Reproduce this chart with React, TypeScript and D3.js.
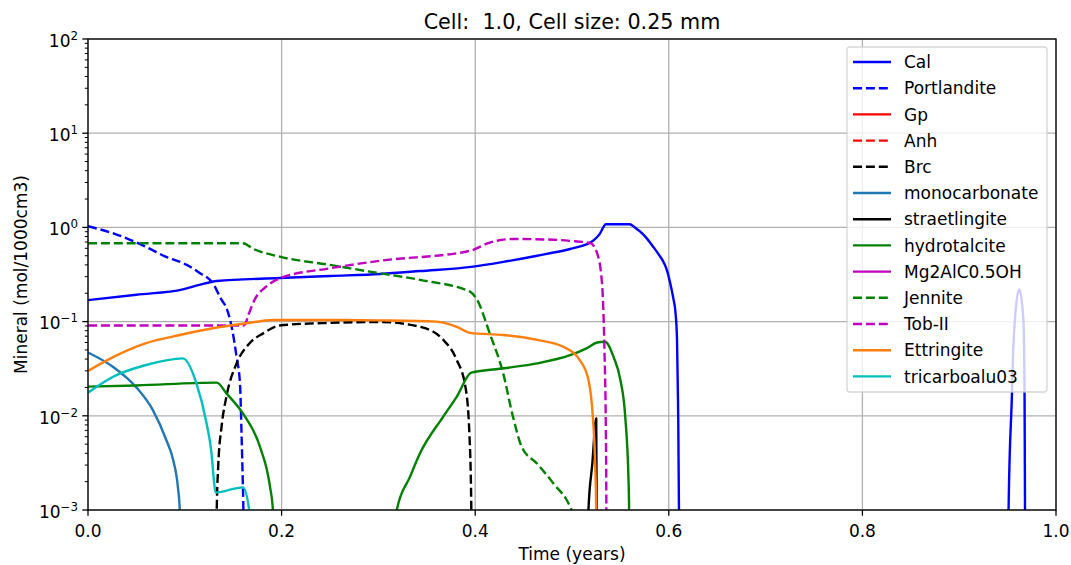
import React from 'react';
import * as d3 from 'd3';

const W = 1071;
const H = 565;
const PLOT = { left: 88, right: 1056, top: 39, bottom: 510 };
const FONT = 'DejaVu Sans, sans-serif';

// Tiny value standing in for zero amounts on the log axis (falls below the plot and is clipped)
const Z = 1e-6;

const xTicks = [0, 0.2, 0.4, 0.6, 0.8, 1.0];
const yExponents = [-3, -2, -1, 0, 1, 2];

// Mineral amounts (mol/1000cm3) against time (years)
const calT = [0, 0.05, 0.098, 0.115, 0.133, 0.198, 0.25, 0.302, 0.343, 0.398, 0.429, 0.464, 0.498, 0.512, 0.519, 0.526, 0.529, 0.535, 0.5595, 0.565, 0.5705, 0.577, 0.584, 0.5895, 0.595, 0.5985, 0.6015, 0.6045, 0.607, 0.6085, 0.6095, 0.6105, 0.611,
  0.9495, 0.951, 0.9545, 0.9558, 0.9578, 0.962, 0.9661, 0.9671, 0.9675, 0.968, 0.9695];
const calV = [0.169, 0.193, 0.22, 0.245, 0.27, 0.29, 0.305, 0.32, 0.344, 0.383, 0.43, 0.50, 0.59, 0.645, 0.69, 0.79, 0.865, 1.08, 1.08, 1.0, 0.90, 0.77, 0.62, 0.518, 0.42, 0.34, 0.255, 0.18, 0.122, 0.064, 0.0147, 0.001, Z,
  Z, 0.001, 0.017, 0.05, 0.113, 0.22, 0.113, 0.05, 0.017, 0.001, Z];

const portlanditeT = [0, 0.031, 0.06, 0.08, 0.102, 0.115, 0.129, 0.138, 0.143, 0.1476, 0.1535, 0.157, 0.1586, 0.160, 0.1605, 0.161];
const portlanditeV = [1.03, 0.83, 0.62, 0.49, 0.40, 0.33, 0.255, 0.17, 0.14, 0.096, 0.042, 0.022, 0.0065, 0.00177, 0.001, Z];

const gpT: number[] = [];
const gpV: number[] = [];
const anhT: number[] = [];
const anhV: number[] = [];

const brcT = [0.132, 0.133, 0.1345, 0.138, 0.143, 0.1535, 0.167, 0.181, 0.198, 0.25, 0.302, 0.343, 0.367, 0.381, 0.390, 0.394, 0.396, 0.397];
const brcV = [Z, 0.001, 0.0029, 0.0077, 0.016, 0.036, 0.059, 0.075, 0.091, 0.097, 0.099, 0.088, 0.064, 0.039, 0.020, 0.0065, 0.001, Z];

const monoT = [0, 0.026, 0.050, 0.067, 0.081, 0.088, 0.093, 0.0948, 0.0955];
const monoV = [0.047, 0.033, 0.020, 0.0115, 0.0055, 0.0034, 0.0017, 0.001, Z];

const straetT = [0.5165, 0.517, 0.521, 0.525, 0.5255, 0.526];
const straetV = [Z, 0.001, 0.0031, 0.0094, 0.001, Z];

const hydroT = [0, 0.05, 0.133, 0.143, 0.160, 0.1776, 0.188, 0.191, 0.1915, 0.318, 0.319, 0.3327, 0.343, 0.367, 0.381, 0.396, 0.43, 0.464, 0.498, 0.515, 0.526, 0.534, 0.543, 0.55, 0.555, 0.5585, 0.559, 0.5595];
const hydroV = [0.0204, 0.021, 0.0225, 0.0173, 0.0106, 0.0047, 0.00177, 0.001, Z, Z, 0.001, 0.00226, 0.0040, 0.0098, 0.016, 0.0287, 0.032, 0.036, 0.044, 0.052, 0.060, 0.061, 0.042, 0.024, 0.0098, 0.0019, 0.001, Z];

const mg2alT: number[] = [];
const mg2alV: number[] = [];

const jenniteT = [0, 0.08, 0.160, 0.171, 0.198, 0.25, 0.291, 0.343, 0.395, 0.402, 0.415, 0.429, 0.439, 0.448, 0.464, 0.481, 0.498, 0.501, 0.502];
const jenniteV = [0.678, 0.678, 0.678, 0.59, 0.489, 0.40, 0.339, 0.277, 0.207, 0.17, 0.075, 0.028, 0.0098, 0.0047, 0.0031, 0.0019, 0.00108, 0.0009, Z];

const tobT = [0, 0.08, 0.160, 0.162, 0.166, 0.172, 0.184, 0.198, 0.25, 0.302, 0.395, 0.415, 0.439, 0.481, 0.498, 0.519, 0.526, 0.531, 0.5335, 0.535, 0.5355, 0.536];
const tobV = [0.0908, 0.0908, 0.0908, 0.093, 0.12, 0.17, 0.235, 0.288, 0.368, 0.443, 0.566, 0.69, 0.753, 0.74, 0.72, 0.68, 0.53, 0.255, 0.05, 0.0065, 0.001, Z];

const ettringiteT = [0, 0.026, 0.060, 0.095, 0.129, 0.164, 0.191, 0.25, 0.302, 0.360, 0.381, 0.395, 0.429, 0.464, 0.491, 0.508, 0.517, 0.5215, 0.524, 0.525, 0.5255];
const ettringiteV = [0.030, 0.042, 0.059, 0.072, 0.085, 0.096, 0.104, 0.104, 0.103, 0.10, 0.088, 0.076, 0.072, 0.064, 0.054, 0.039, 0.024, 0.0098, 0.0029, 0.001, Z];

const tricarboT = [0, 0.026, 0.06, 0.098, 0.112, 0.1225, 0.1276, 0.130, 0.1317, 0.160, 0.1665, 0.167];
const tricarboV = [0.0176, 0.026, 0.0346, 0.0407, 0.0221, 0.0083, 0.0040, 0.0021, 0.00153, 0.00174, 0.001, Z];

type Series = { name: string; color: string; dashed: boolean; t: number[]; v: number[] };

const series: Series[] = [
  { name: 'Cal', color: '#0000ff', dashed: false, t: calT, v: calV },
  { name: 'Portlandite', color: '#0000ff', dashed: true, t: portlanditeT, v: portlanditeV },
  { name: 'Gp', color: '#ff0000', dashed: false, t: gpT, v: gpV },
  { name: 'Anh', color: '#ff0000', dashed: true, t: anhT, v: anhV },
  { name: 'Brc', color: '#000000', dashed: true, t: brcT, v: brcV },
  { name: 'monocarbonate', color: '#1f77b4', dashed: false, t: monoT, v: monoV },
  { name: 'straetlingite', color: '#000000', dashed: false, t: straetT, v: straetV },
  { name: 'hydrotalcite', color: '#008000', dashed: false, t: hydroT, v: hydroV },
  { name: 'Mg2AlC0.5OH', color: '#bf00bf', dashed: false, t: mg2alT, v: mg2alV },
  { name: 'Jennite', color: '#008000', dashed: true, t: jenniteT, v: jenniteV },
  { name: 'Tob-II', color: '#bf00bf', dashed: true, t: tobT, v: tobV },
  { name: 'Ettringite', color: '#ff7f0e', dashed: false, t: ettringiteT, v: ettringiteV },
  { name: 'tricarboalu03', color: '#00bfbf', dashed: false, t: tricarboT, v: tricarboV },
];

const LW = 2.4;
const DASH = '9,3.9';

export default function App() {
  const x = d3.scaleLinear().domain([0, 1]).range([PLOT.left, PLOT.right]);
  const y = d3.scaleLog().domain([1e-3, 1e2]).range([PLOT.bottom, PLOT.top]);

  const line = d3
    .line<[number, number]>()
    .x((d) => x(d[0]))
    .y((d) => y(d[1]))
    .curve(d3.curveMonotoneX);

  const minorTicks: number[] = [];
  for (let e = -3; e < 2; e++) {
    for (let m = 2; m <= 9; m++) minorTicks.push(m * Math.pow(10, e));
  }

  const fs = 17;
  const legend = { x: 847, y: 47, w: 200, h: 345, row0: 62, step: 26.2 };

  return (
    <svg
      width={W}
      height={H}
      style={{ position: 'absolute', left: 0, top: 0, background: '#fff' }}
      fontFamily={FONT}
    >
      <defs>
        <clipPath id="plot-clip">
          <rect x={PLOT.left} y={PLOT.top} width={PLOT.right - PLOT.left} height={PLOT.bottom - PLOT.top} />
        </clipPath>
      </defs>
      <rect x={0} y={0} width={W} height={H} fill="#fff" />

      {/* grid */}
      <g stroke="#b0b0b0" strokeWidth={1.3}>
        {xTicks.map((t) => (
          <line key={'gx' + t} x1={x(t)} x2={x(t)} y1={PLOT.top} y2={PLOT.bottom} />
        ))}
        {yExponents.map((e) => (
          <line key={'gy' + e} x1={PLOT.left} x2={PLOT.right} y1={y(Math.pow(10, e))} y2={y(Math.pow(10, e))} />
        ))}
      </g>

      {/* mineral curves */}
      <g clipPath="url(#plot-clip)" fill="none">
        {series.map((s) =>
          s.t.length ? (
            <path
              key={s.name}
              d={line(s.t.map((t, i) => [t, s.v[i]] as [number, number])) || ''}
              stroke={s.color}
              strokeWidth={LW}
              strokeDasharray={s.dashed ? DASH : undefined}
              strokeLinejoin="round"
            />
          ) : null
        )}
      </g>

      {/* frame */}
      <rect
        x={PLOT.left}
        y={PLOT.top}
        width={PLOT.right - PLOT.left}
        height={PLOT.bottom - PLOT.top}
        fill="none"
        stroke="#000"
        strokeWidth={1.3}
      />

      {/* x ticks */}
      <g>
        {xTicks.map((t) => (
          <g key={'xt' + t}>
            <line x1={x(t)} x2={x(t)} y1={PLOT.bottom} y2={PLOT.bottom + 5.7} stroke="#000" strokeWidth={1.3} />
            <text x={x(t)} y={536.5} textAnchor="middle" fontSize={fs} fill="#000">
              {t.toFixed(1)}
            </text>
          </g>
        ))}
      </g>

      {/* y ticks */}
      <g>
        {minorTicks.map((v) => (
          <line key={'ym' + v} x1={PLOT.left - 3.2} x2={PLOT.left} y1={y(v)} y2={y(v)} stroke="#000" strokeWidth={1} />
        ))}
        {yExponents.map((e) => {
          const yy = y(Math.pow(10, e));
          return (
            <g key={'yt' + e}>
              <line x1={PLOT.left - 5.7} x2={PLOT.left} y1={yy} y2={yy} stroke="#000" strokeWidth={1.3} />
              <text x={78} y={yy + 7.8} textAnchor="end" fontSize={fs} fill="#000">
                <tspan>10</tspan>
                <tspan dy={-7} fontSize={11.8}>
                  {e < 0 ? '\u2212' + Math.abs(e) : String(e)}
                </tspan>
              </text>
            </g>
          );
        })}
      </g>

      {/* legend */}
      <g>
        <rect
          x={legend.x}
          y={legend.y}
          width={legend.w}
          height={legend.h}
          rx={3}
          fill="#fff"
          fillOpacity={0.8}
          stroke="#cccccc"
          strokeOpacity={0.8}
          strokeWidth={1.3}
        />
        {series.map((s, i) => {
          const cy = legend.row0 + i * legend.step;
          return (
            <g key={'lg' + s.name}>
              <line
                x1={853}
                x2={891}
                y1={cy}
                y2={cy}
                stroke={s.color}
                strokeWidth={LW}
                strokeDasharray={s.dashed ? DASH : undefined}
              />
              <text x={904} y={cy + 6.2} fontSize={fs} fill="#000">
                {s.name}
              </text>
            </g>
          );
        })}
      </g>

      {/* title and axis labels */}
      <text x={(PLOT.left + PLOT.right) / 2} y={28.5} textAnchor="middle" fontSize={20.7} fill="#000" style={{ whiteSpace: 'pre' }}>
        {'Cell:  1.0, Cell size: 0.25 mm'}
      </text>
      <text x={(PLOT.left + PLOT.right) / 2} y={559.5} textAnchor="middle" fontSize={fs} fill="#000">
        Time (years)
      </text>
      <text
        transform={`translate(27, ${(PLOT.top + PLOT.bottom) / 2}) rotate(-90)`}
        textAnchor="middle"
        fontSize={fs}
        fill="#000"
      >
        Mineral (mol/1000cm3)
      </text>
    </svg>
  );
}
